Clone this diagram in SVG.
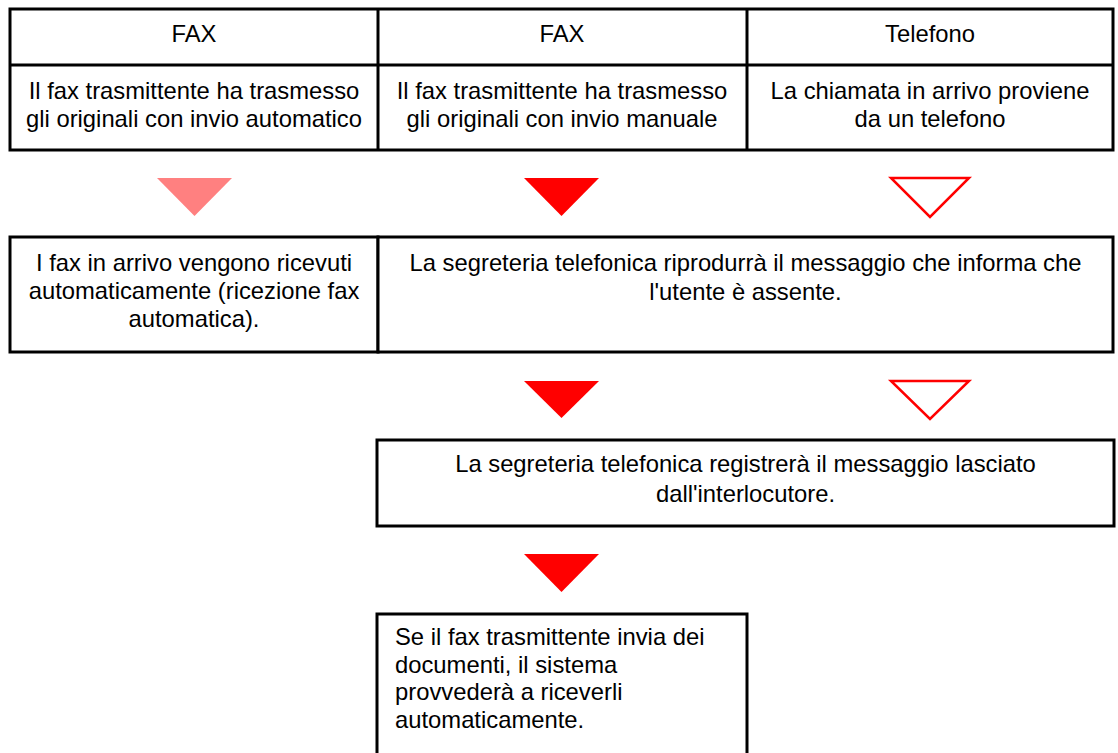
<svg xmlns="http://www.w3.org/2000/svg" width="1118" height="753" viewBox="0 0 1118 753">
<style>
.box{fill:#fff;stroke:#000;stroke-width:3}
.ln{stroke:#000;stroke-width:3;fill:none}
.t{font-family:"Liberation Sans",Arial,sans-serif;font-size:23.8px;fill:#000}
.c{text-anchor:middle}
.solid{fill:#ff0000}
.light{fill:#ff8080}
.hollow{fill:#fff;stroke:#ff0000;stroke-width:2.5}
</style>
<rect width="1118" height="753" fill="#fff"/>
<g id="header-table">
<rect class="box" x="10" y="9" width="1103" height="141"/>
<line class="ln" x1="10" y1="65" x2="1113" y2="65"/>
<line class="ln" x1="378" y1="9" x2="378" y2="150"/>
<line class="ln" x1="747" y1="9" x2="747" y2="150"/>
</g>
<g id="col-fax-auto">
<text class="t c" x="194" y="42">FAX</text>
<text class="t c" x="194" y="99">Il fax trasmittente ha trasmesso</text>
<text class="t c" x="194" y="127">gli originali con invio automatico</text>
</g>
<g id="col-fax-manual">
<text class="t c" x="562" y="42">FAX</text>
<text class="t c" x="562" y="99">Il fax trasmittente ha trasmesso</text>
<text class="t c" x="562" y="127">gli originali con invio manuale</text>
</g>
<g id="col-telefono">
<text class="t c" x="930" y="42">Telefono</text>
<text class="t c" x="930" y="99">La chiamata in arrivo proviene</text>
<text class="t c" x="930" y="127">da un telefono</text>
</g>
<g id="connectors">
<polygon class="light" points="157,178 232,178 194.5,216"/>
<polygon class="solid" points="524,178 599,178 561.5,216"/>
<polygon class="hollow" points="891,178 969,178 930,217"/>
<polygon class="solid" points="524,381 599,381 561.5,418"/>
<polygon class="hollow" points="891,381 969,381 930,419"/>
<polygon class="solid" points="524,554 599,554 561.5,592"/>
</g>
<g id="node-auto-receive">
<rect class="box" x="10" y="237" width="368" height="115"/>
<text class="t c" x="194" y="271">I fax in arrivo vengono ricevuti</text>
<text class="t c" x="194" y="299">automaticamente (ricezione fax</text>
<text class="t c" x="194" y="327">automatica).</text>
</g>
<g id="node-play-message">
<rect class="box" x="378" y="237" width="735" height="115"/>
<text class="t c" x="745.5" y="271">La segreteria telefonica riprodurrà il messaggio che informa che</text>
<text class="t c" x="745.5" y="300">l'utente è assente.</text>
</g>
<g id="node-record-message">
<rect class="box" x="377" y="440" width="737" height="86"/>
<text class="t c" x="745.5" y="472">La segreteria telefonica registrerà il messaggio lasciato</text>
<text class="t c" x="745.5" y="502">dall'interlocutore.</text>
</g>
<g id="node-receive-docs">
<rect class="box" x="377" y="614" width="370" height="160"/>
<text class="t" x="395" y="645">Se il fax trasmittente invia dei</text>
<text class="t" x="395" y="673">documenti, il sistema</text>
<text class="t" x="395" y="700">provvederà a riceverli</text>
<text class="t" x="395" y="728">automaticamente.</text>
</g>
</svg>
